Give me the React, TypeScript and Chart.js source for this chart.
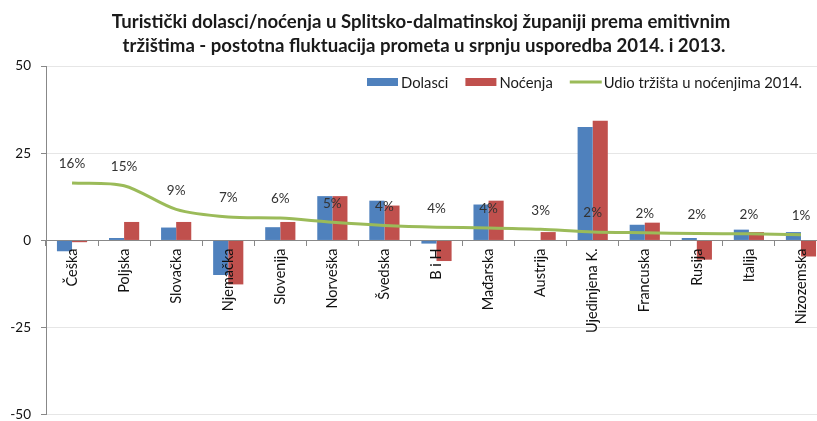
import React, { useEffect, useRef } from "react";
import { Chart, registerables } from "chart.js";

Chart.register(...registerables);

const titleLines = [
  "Turistički dolasci/noćenja u Splitsko-dalmatinskoj županiji prema emitivnim",
  "tržištima - postotna fluktuacija prometa u srpnju usporedba 2014. i 2013.",
];
const categories = [
  "Češka", "Poljska", "Slovačka", "Njemačka", "Slovenija", "Norveška", "Švedska", "B i H",
  "Mađarska", "Austrija", "Ujedinjena K.", "Francuska", "Rusija", "Italija", "Nizozemska",
];
const dolasci = [-3.1, 0.7, 3.7, -9.9, 3.8, 12.7, 11.4, -0.9, 10.3, 0, 32.5, 4.5, 0.7, 3.1, 2.4];
const nocenja = [-0.5, 5.3, 5.3, -12.6, 5.3, 12.7, 10.0, -5.9, 11.4, 2.4, 34.3, 5.1, -5.5, 2.4, -4.6];
const udio = [16.5, 15.7, 8.9, 6.7, 6.4, 5.2, 4.3, 3.8, 3.6, 3.2, 2.4, 2.2, 2.0, 1.9, 1.6];
const udioLabels = ["16%", "15%", "9%", "7%", "6%", "5%", "4%", "4%", "4%", "3%", "2%", "2%", "2%", "2%", "1%"];
const seriesNames = ["Dolasci", "Noćenja", "Udio tržišta u noćenjima 2014."];
const yMin = -50;
const yMax = 50;
const yStep = 25;

const FONT = "Lato, 'Open Sans', sans-serif";
const BLUE = "#4F81BD";
const RED = "#C0504D";
const GREEN = "#9BBB59";

const overlayPlugin = {
  id: "overlay",
  afterDraw(chart: any) {
    const ctx = chart.ctx;
    ctx.save();
    // title
    ctx.fillStyle = "#1a1a1a";
    ctx.font = `bold 18.6px ${FONT}`;
    ctx.textAlign = "center";
    ctx.textBaseline = "middle";
    ctx.fillText(titleLines[0], 421, 22);
    ctx.fillText(titleLines[1], 424, 46);

    // data labels for line
    const lineMeta = chart.getDatasetMeta(2);
    ctx.font = `13.5px ${FONT}`;
    ctx.fillStyle = "#333";
    lineMeta.data.forEach((pt: any, i: number) => {
      ctx.fillText(udioLabels[i], pt.x, pt.y - 19);
    });

    // legend
    ctx.font = `14.8px ${FONT}`;
    ctx.textAlign = "left";
    let x = 367;
    const y = 82;
    const colors = [BLUE, RED, GREEN];
    seriesNames.forEach((name, i) => {
      if (i < 2) {
        ctx.fillStyle = colors[i];
        ctx.fillRect(x, y - 4, 31, 8);
      } else {
        ctx.strokeStyle = colors[i];
        ctx.lineWidth = 3;
        ctx.beginPath();
        ctx.moveTo(x, y);
        ctx.lineTo(x + 32, y);
        ctx.stroke();
      }
      ctx.fillStyle = "#1a1a1a";
      ctx.fillText(name, x + 34, y + 1);
      x += 34 + ctx.measureText(name).width + 17;
    });
    ctx.restore();
  },
};

export default function App() {
  const ref = useRef<HTMLCanvasElement>(null);
  useEffect(() => {
    document.body.style.margin = "0";
    const chart = new Chart(ref.current as HTMLCanvasElement, {
      type: "bar",
      data: {
        labels: categories,
        datasets: [
          { type: "bar", label: seriesNames[0], data: dolasci, backgroundColor: BLUE, order: 1 },
          { type: "bar", label: seriesNames[1], data: nocenja, backgroundColor: RED, order: 1 },
          {
            type: "line",
            label: seriesNames[2],
            data: udio,
            borderColor: GREEN,
            borderWidth: 3,
            pointRadius: 0,
            tension: 0.3,
            order: 0,
          } as any,
        ],
      },
      options: {
        animation: false,
        responsive: false,
        datasets: { bar: { categoryPercentage: 0.58, barPercentage: 1 } } as any,
        layout: { padding: { top: 66, bottom: 0, left: 0, right: 13 } },
        plugins: { legend: { display: false }, title: { display: false }, tooltip: { enabled: false } },
        scales: {
          x: {
            position: { y: 0 } as any,
            grid: {
              offset: true,
              drawOnChartArea: false,
              drawTicks: true,
              tickLength: 5,
              tickColor: "#888",
            },
            border: { color: "#888", width: 1 },
            ticks: {
              z: 1,
              minRotation: 90,
              maxRotation: 90,
              padding: 3,
              color: "#111",
              font: { family: FONT, size: 14.5 },
              autoSkip: false,
            } as any,
          },
          y: {
            min: yMin,
            max: yMax,
            afterFit: (scale: any) => {
              scale.width = 46;
            },
            ticks: {
              stepSize: yStep,
              padding: 10,
              color: "#111",
              font: { family: FONT, size: 13.5 },
            },
            grid: {
              color: (c: any) => (c.tick && c.tick.value === 0 ? "rgba(0,0,0,0)" : "#e6e6e6"),
              tickColor: "#888",
              tickLength: 5,
            },
            border: { color: "#888", width: 1 },
          },
        },
      },
      plugins: [overlayPlugin],
    });
    return () => chart.destroy();
  }, []);
  return (
    <div style={{ position: "fixed", left: 0, top: 0, width: 817, height: 421, overflow: "hidden", background: "#fff" }}>
      <canvas ref={ref} width={840} height={433} style={{ display: "block" }} />
    </div>
  );
}
